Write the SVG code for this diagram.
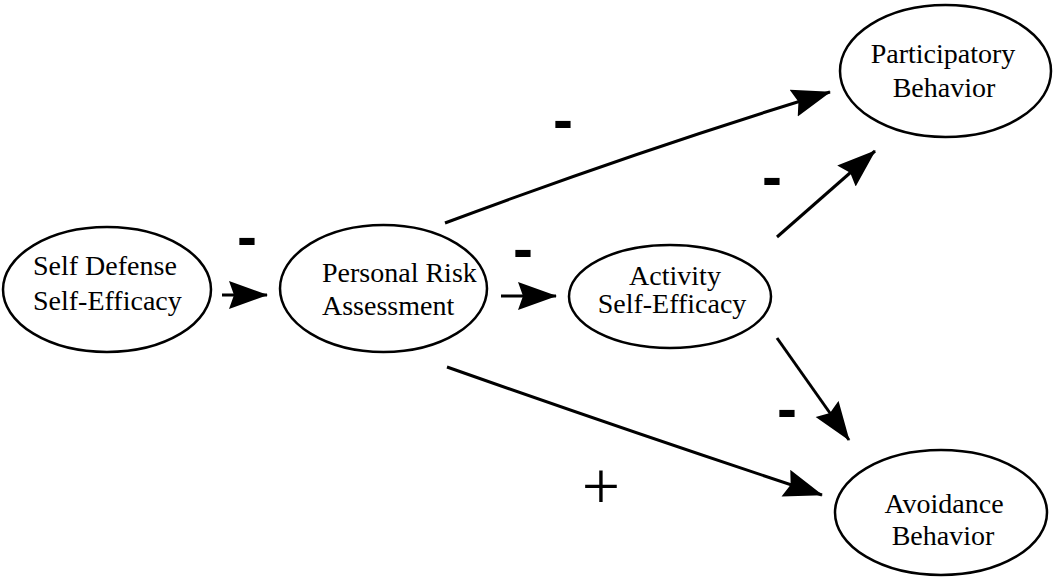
<svg xmlns="http://www.w3.org/2000/svg" width="1054" height="585" viewBox="0 0 1054 585">
<style>
.node{fill:#fff;stroke:#000;stroke-width:2.5}
.lbl{font-family:"Liberation Serif","Times New Roman",serif;font-size:28px;fill:#000}
.edge{fill:none;stroke:#000;stroke-width:3}
.sign{font-family:"Liberation Sans",Arial,sans-serif;font-weight:bold;font-size:60px;fill:#000;text-anchor:middle}
.plus{font-family:"Liberation Serif","Times New Roman",serif;font-size:68px;fill:#000;text-anchor:middle}
</style>
<defs>
<marker id="ah" markerUnits="userSpaceOnUse" markerWidth="42" markerHeight="30" refX="38" refY="14" orient="auto">
<path d="M0,0 L39,14 L0,28 L5,14 Z" fill="#000"/>
</marker>
</defs>
<rect width="1054" height="585" fill="#fff"/>
<g id="connectors">
<line class="edge" x1="222" y1="295" x2="267" y2="295" marker-end="url(#ah)"/>
<line class="edge" x1="501" y1="296" x2="556" y2="296" marker-end="url(#ah)"/>
<path class="edge" d="M445,223 Q640,150 830,92" marker-end="url(#ah)"/>
<line class="edge" x1="777" y1="237" x2="875" y2="151" marker-end="url(#ah)"/>
<line class="edge" x1="777" y1="338" x2="849" y2="440" marker-end="url(#ah)"/>
<path class="edge" d="M447,367 Q640,435 822,495" marker-end="url(#ah)"/>
</g>
<g id="signs">
<text class="sign" x="247" y="257">-</text>
<text class="sign" x="523" y="269">-</text>
<text class="sign" x="563" y="140">-</text>
<text class="sign" x="772" y="197">-</text>
<text class="sign" x="787" y="429">-</text>
<text class="plus" x="601" y="509">+</text>
</g>
<g id="self-defense">
<ellipse class="node" cx="107" cy="289.5" rx="104" ry="62.5"/>
<text class="lbl" x="33" y="275">Self Defense</text>
<text class="lbl" x="33" y="310">Self-Efficacy</text>
</g>
<g id="personal-risk">
<ellipse class="node" cx="383.5" cy="288.5" rx="103.5" ry="63.5"/>
<text class="lbl" x="322" y="282">Personal Risk</text>
<text class="lbl" x="322" y="315">Assessment</text>
</g>
<g id="activity">
<ellipse class="node" cx="670" cy="296.5" rx="101" ry="51.5"/>
<text class="lbl" x="675" y="285" text-anchor="middle">Activity</text>
<text class="lbl" x="672" y="313" text-anchor="middle">Self-Efficacy</text>
</g>
<g id="participatory">
<ellipse class="node" cx="945.5" cy="71" rx="105.5" ry="66"/>
<text class="lbl" x="943" y="63" text-anchor="middle">Participatory</text>
<text class="lbl" x="944" y="97" text-anchor="middle">Behavior</text>
</g>
<g id="avoidance">
<ellipse class="node" cx="941" cy="512.5" rx="106" ry="62.5"/>
<text class="lbl" x="944" y="513" text-anchor="middle">Avoidance</text>
<text class="lbl" x="943" y="545" text-anchor="middle">Behavior</text>
</g>
</svg>
